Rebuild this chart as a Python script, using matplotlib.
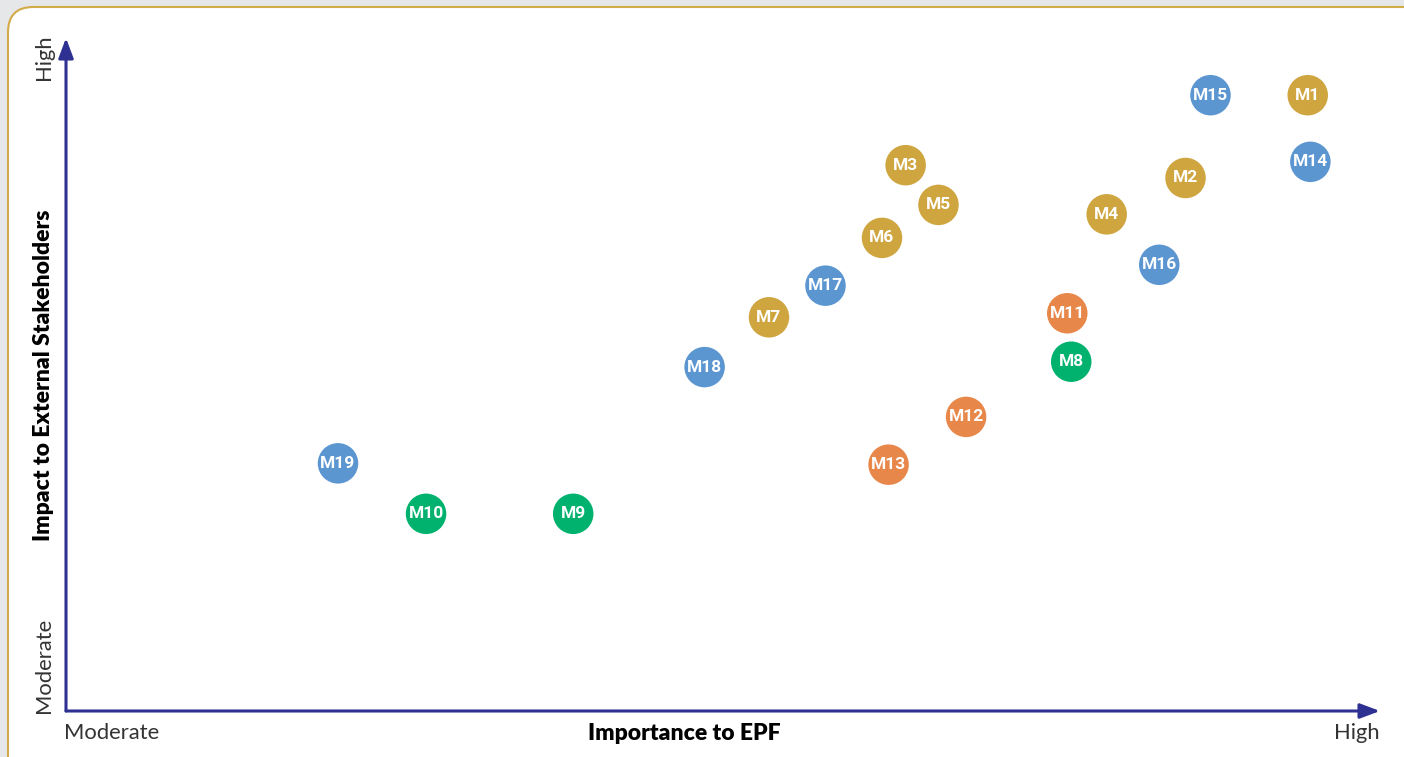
import matplotlib.pyplot as plt
from matplotlib.patches import FancyBboxPatch

# materiality matrix values (0-10 scale on both axes)
labels = ["M1", "M2", "M3", "M4", "M5", "M6", "M7", "M8", "M9", "M10",
          "M11", "M12", "M13", "M14", "M15", "M16", "M17", "M18", "M19"]
importance = [9.45, 8.52, 6.39, 7.92, 6.64, 6.21, 5.35, 7.65, 3.86, 2.74,
              7.62, 6.85, 6.26, 9.47, 8.71, 8.32, 5.78, 4.86, 2.07]
impact = [9.15, 7.92, 8.11, 7.38, 7.52, 7.03, 5.85, 5.19, 2.93, 2.93,
          5.91, 4.37, 3.66, 8.16, 9.15, 6.63, 6.32, 5.11, 3.68]
groups = ["gold", "gold", "gold", "gold", "gold", "gold", "gold", "green", "green", "green",
          "orange", "orange", "orange", "blue", "blue", "blue", "blue", "blue", "blue"]

palette = {"gold": "#cfa540", "blue": "#5b96d1", "orange": "#e8874a", "green": "#00b26e"}
navy = "#2e3192"

fig = plt.figure(figsize=(14.04, 7.57), dpi=100)
fig.patch.set_facecolor("#e6e7e8")

# rounded white panel
panel = FancyBboxPatch((8 / 1404, -30 / 757), 1430 / 1404, 780 / 757,
                       boxstyle="round,pad=0,rounding_size=0.018",
                       transform=fig.transFigure, facecolor="white",
                       edgecolor="#d2aa48", linewidth=1.5, zorder=-5,
                       mutation_aspect=1404 / 757)
fig.patches.append(panel)

ax = fig.add_axes([66 / 1404, 46 / 757, 1314 / 1404, 673 / 757])
ax.set_facecolor("none")
ax.set_zorder(2)
ax.set_xlim(0, 10)
ax.set_ylim(0, 10)
for s in ax.spines.values():
    s.set_visible(False)
ax.set_xticks([])
ax.set_yticks([])

# axis arrows
arrow = dict(arrowstyle="-|>,head_length=1.2,head_width=0.45", color=navy, lw=2.2,
             shrinkA=0, shrinkB=0)
ax.annotate("", xy=(10, 0), xytext=(0, 0), arrowprops=arrow, annotation_clip=False)
ax.annotate("", xy=(0, 10), xytext=(0, 0), arrowprops=arrow, annotation_clip=False)

colors = [palette[g] for g in groups]
ax.scatter(importance, impact, s=850, c=colors, linewidths=0, zorder=3, clip_on=False)
for lab, x, y in zip(labels, importance, impact):
    ax.text(x, y, lab, ha="center", va="center", color="white", fontsize=12.5,
            fontweight="bold", family=["Roboto", "DejaVu Sans"], zorder=4)

txt = dict(color="#333333", family=["Lato", "DejaVu Sans"])
fig.text(64 / 1404, 1 - 733 / 757, "Moderate", ha="left", va="center", fontsize=15.8, **txt)
fig.text(1380 / 1404, 1 - 733 / 757, "High", ha="right", va="center", fontsize=15.8, **txt)
fig.text(684 / 1404, 1 - 733 / 757, "Importance to EPF", ha="center", va="center",
         fontsize=16.5, fontweight="heavy", color="black", family=["Lato", "DejaVu Sans"])
fig.text(44 / 1404, 1 - 665 / 757, "Moderate", ha="center", va="center", fontsize=15.8,
         rotation=90, **txt)
fig.text(44 / 1404, 1 - 57 / 757, "High", ha="center", va="center", fontsize=15.8,
         rotation=90, **txt)
fig.text(44 / 1404, 1 - 375 / 757, "Impact to External Stakeholders", ha="center",
         va="center", fontsize=16.5, fontweight="heavy", rotation=90, color="black",
         family=["Lato", "DejaVu Sans"])

fig.savefig("out.png", dpi=100, facecolor=fig.get_facecolor())
